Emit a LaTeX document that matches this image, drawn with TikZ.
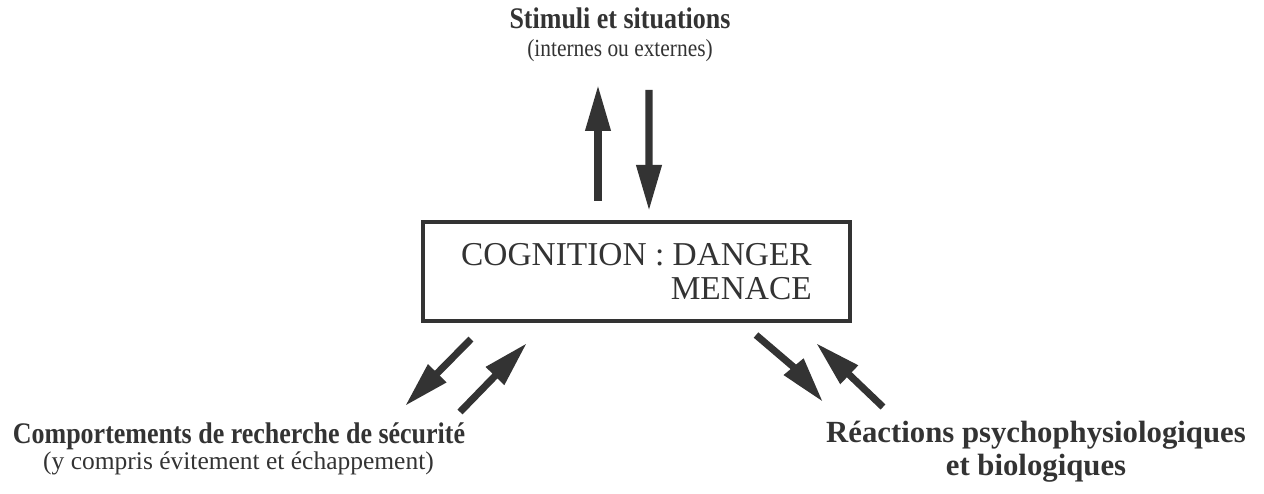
\documentclass[tikz,border=0pt]{standalone}
\usepackage{fontspec}
\setmainfont{Liberation Serif}
\newfontfamily\etroit[FakeStretch=0.87]{Liberation Serif}
\usetikzlibrary{arrows.meta}
\definecolor{encre}{HTML}{333333}
\tikzset{
  titre/.style={font=\etroit\bfseries\fontsize{17}{20}\selectfont, text=encre, inner sep=0pt, anchor=base},
  soustitre/.style={font=\fontsize{14.5}{17}\selectfont, text=encre, inner sep=0pt, anchor=base},
  cadre/.style={draw=encre, line width=2.3pt, minimum width=8.54cm, minimum height=1.98cm,
    align=right, text=encre, font=\fontsize{19}{19.5}\selectfont},
  fleche/.style={draw=encre, line width=4pt, -{Triangle[length=0.92cm,width=0.48cm]}}
}
\begin{document}
\begin{tikzpicture}
  \useasboundingbox (0,0) rectangle (25.28,-9.88);
  % boite centrale
  \node[cadre] (cog) at (12.73,-5.43) {COGNITION : DANGER\\MENACE};
  % textes
  \node[titre] (stim) at (12.4,-0.58) {Stimuli et situations};
  \node[soustitre, font=\etroit\fontsize{14}{16}\selectfont] (stimsub) at (12.4,-1.13) {(internes ou externes)};
  \node[titre] (comp) at (4.78,-8.88) {Comportements de recherche de sécurité};
  \node[soustitre] (compsub) at (4.77,-9.4) {(y compris évitement et échappement)};
  \node[titre, font=\bfseries\fontsize{17.5}{20}\selectfont] (reac) at (20.72,-8.86) {Réactions psychophysiologiques};
  \node[titre, font=\bfseries\fontsize{17.5}{20}\selectfont] (reacsub) at (20.72,-9.5) {et biologiques};
  % fleches
  \draw[fleche] ([shift={(-0.77,0.38)}]cog.north) -- ([shift={(-0.44,-0.57)}]stimsub.base);
  \draw[fleche] ([shift={(0.58,-0.67)}]stimsub.base) -- ([shift={(0.25,0.18)}]cog.north);
  \draw[fleche] ([shift={(1.0,-0.32)}]cog.south west) -- ([shift={(3.32,0.76)}]comp.base);
  \draw[fleche] ([shift={(4.42,0.64)}]comp.base) -- ([shift={(2.12,-0.40)}]cog.south west);
  \draw[fleche] ([shift={(-1.92,-0.24)}]cog.south east) -- ([shift={(-4.26,0.82)}]reac.base);
  \draw[fleche] ([shift={(-3.06,0.72)}]reac.base) -- ([shift={(-0.72,-0.40)}]cog.south east);
\end{tikzpicture}
\end{document}
